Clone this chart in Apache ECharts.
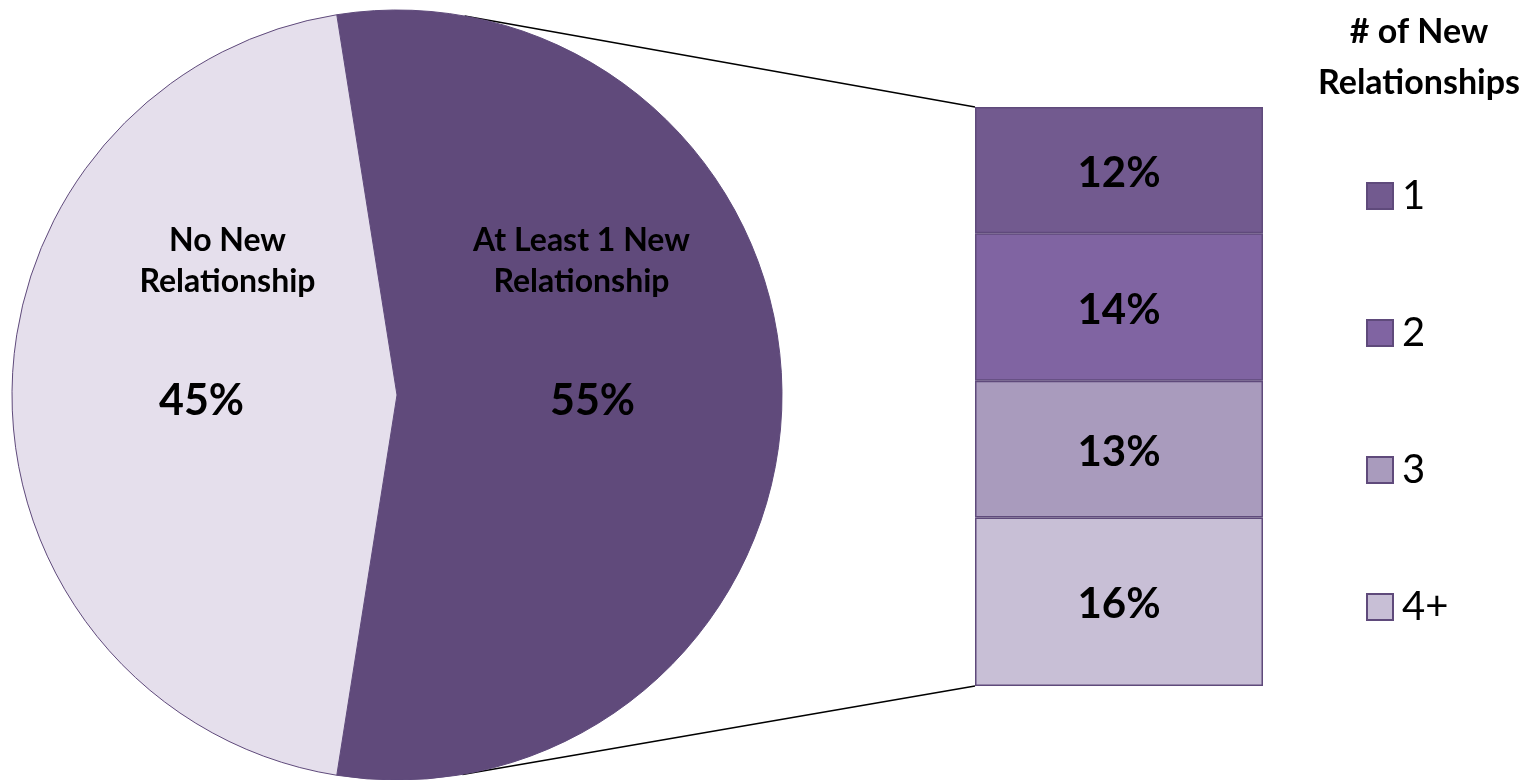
<!DOCTYPE html>
<html><head><meta charset="utf-8">
<script src="https://cdn.jsdelivr.net/npm/echarts@6/dist/echarts.min.js"></script>
<style>html,body{margin:0;padding:0;background:#fff}#c{width:1528px;height:780px}</style>
</head><body><div id="c"></div>
<script>
// ---- data ----
const pieNames = ['At Least 1 New\nRelationship', 'No New\nRelationship'];
const pieValues = [55, 45];
const pieColors = ['#604A7B', '#E5DFEC'];
const barCategories = ['At Least 1 New Relationship'];
const barSeriesNames = ['4+', '3', '2', '1'];
const barValues = [16, 13, 14, 12];
const barColors = ['#C8BFD6', '#A99BBD', '#8064A2', '#725A8F'];
const legendOrder = ['1', '2', '3', '4+'];
const legendTitle = '# of New\nRelationships';

// ---- layout ----
const FONT = 'Lato';
const pieCenter = [397, 395];
const pieRadius = 385;
const namePad = [[0, 22, 0, 0], [0, 0, 0, 52]];

const chart = echarts.init(document.getElementById('c'), null, { renderer: 'canvas' });

const pieData = pieNames.map((n, i) => ({
  name: n,
  value: pieValues[i],
  itemStyle: { color: pieColors[i] },
  label: {
    formatter: () => n.split('\n').map(l => '{n|' + l + '}').join('\n') + '\n{s| }\n{p|' + pieValues[i] + '%}',
    rich: {
      n: { fontFamily: FONT, fontSize: 32, fontWeight: 'bold', color: '#000', lineHeight: 41, padding: namePad[i] },
      s: { fontSize: 10, lineHeight: 74.5 },
      p: { fontFamily: FONT, fontSize: 43, fontWeight: 'bold', color: '#000', lineHeight: 50 }
    }
  }
}));

const pieSum = pieValues.reduce((a, b) => a + b, 0);
const total = barValues.reduce((a, b) => a + b, 0);

const barSeries = barSeriesNames.map((n, i) => ({
  name: n,
  type: 'bar',
  stack: 'all',
  barWidth: '100%',
  data: [barValues[i]],
  itemStyle: { color: barColors[i], borderColor: '#5F4A7B', borderWidth: 1.5 },
  label: {
    show: true, position: 'inside', formatter: '{c}%', offset: [0, 3],
    fontFamily: FONT, fontSize: 42, fontWeight: 'bold', color: '#000'
  }
}));

chart.setOption({
  animation: false,
  backgroundColor: '#fff',
  title: {
    text: legendTitle,
    left: 1414, top: 2, textAlign: 'center',
    textStyle: { fontFamily: FONT, fontSize: 34, fontWeight: 'bold', color: '#000', lineHeight: 51 }
  },
  legend: {
    data: legendOrder,
    orient: 'vertical',
    left: 1361, top: 171,
    itemWidth: 26, itemHeight: 26, itemGap: 97,
    icon: 'rect',
    textStyle: { fontFamily: FONT, fontSize: 40, color: '#000', lineHeight: 40, padding: [0, 0, 0, 4] },
    selectedMode: false
  },
  grid: { left: 975, top: 107, width: 288, height: 579, containLabel: false },
  xAxis: { type: 'category', data: barCategories, show: false },
  yAxis: { type: 'value', min: 0, max: total, show: false },
  series: [
    {
      type: 'pie',
      center: pieCenter,
      radius: pieRadius,
      startAngle: (pieValues[0] / pieSum) * 180,
      clockwise: true,
      avoidLabelOverlap: false,
      silent: true,
      itemStyle: { borderColor: '#5F4A7B', borderWidth: 1 },
      label: { show: true, position: 'inside', offset: [0, -72] },
      labelLine: { show: false },
      data: pieData
    }
  ].concat(barSeries)
});

// connector lines: tangents from bar corners to pie circle
function tangentPoint(P, C, r, upper) {
  const dx = C[0] - P[0], dy = C[1] - P[1];
  const d = Math.hypot(dx, dy);
  const base = Math.atan2(dy, dx);
  const a = Math.asin(r / d);
  const L = Math.sqrt(d * d - r * r);
  const ang = upper ? base + a : base - a;
  return [P[0] + L * Math.cos(ang), P[1] + L * Math.sin(ang)];
}
const rect = chart.getModel().getComponent('grid', 0).coordinateSystem.getRect();
const topY = chart.convertToPixel({ yAxisIndex: 0 }, total);
const botY = chart.convertToPixel({ yAxisIndex: 0 }, 0);
const pTop = [rect.x, topY], pBot = [rect.x, botY];
const tTop = tangentPoint(pTop, pieCenter, pieRadius, true);
const tBot = tangentPoint(pBot, pieCenter, pieRadius, false);
chart.setOption({
  graphic: [
    { type: 'line', z: -1, shape: { x1: pTop[0], y1: pTop[1], x2: tTop[0], y2: tTop[1] }, style: { stroke: '#000', lineWidth: 1.5 } },
    { type: 'line', z: -1, shape: { x1: pBot[0], y1: pBot[1], x2: tBot[0], y2: tBot[1] }, style: { stroke: '#000', lineWidth: 1.5 } }
  ]
});
</script>
</body></html>
